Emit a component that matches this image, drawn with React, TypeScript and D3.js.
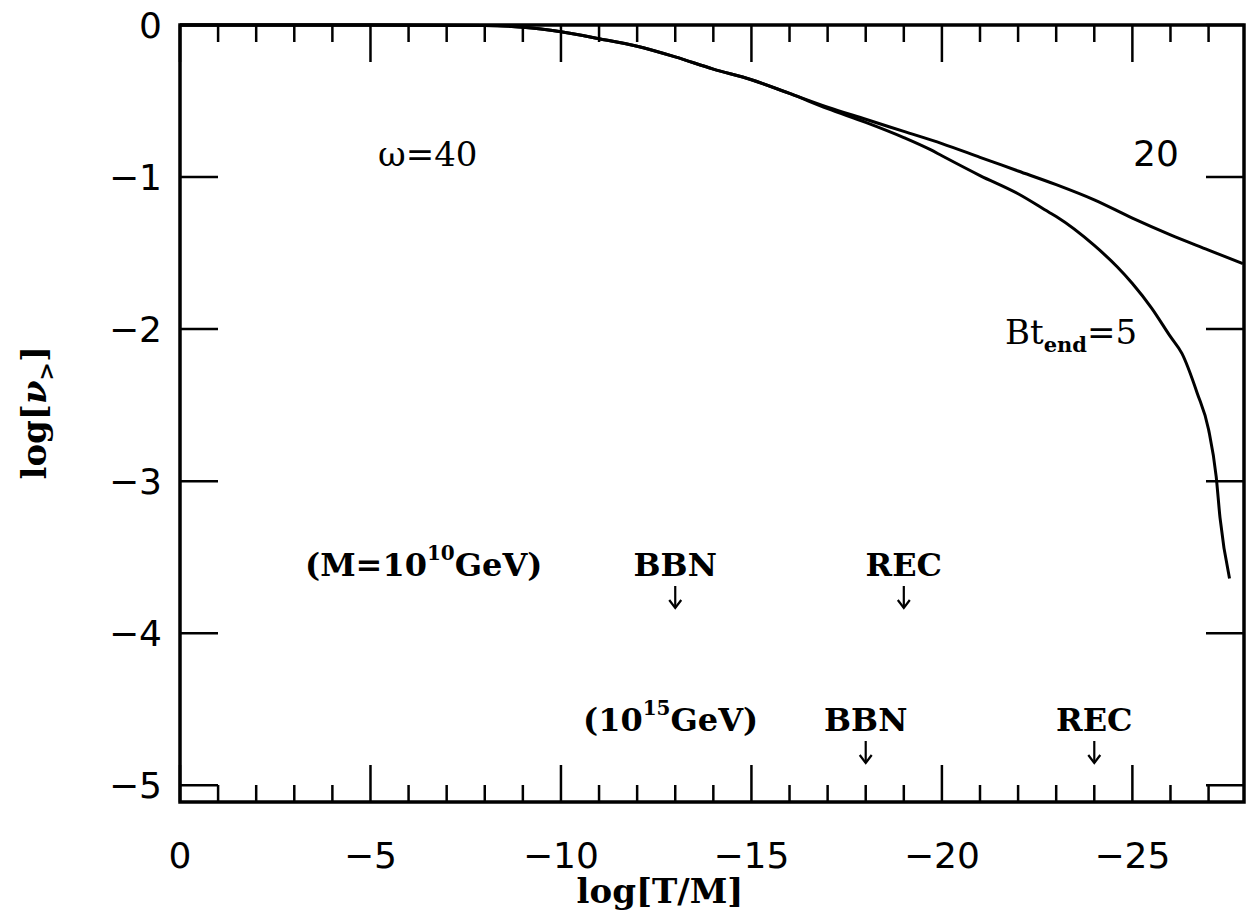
import React from "react";
import * as d3 from "d3";

// log[T/M] axis ticks
const xMajorTicks = [0, -5, -10, -15, -20, -25];
const xMinorTicks = d3.range(0, -28, -1).filter(v => v % 5 !== 0);
const xTickLabels = ["0", "\u22125", "\u221210", "\u221215", "\u221220", "\u221225"];

// log[v>] axis ticks
const yTicks = [0, -1, -2, -3, -4, -5];
const yTickLabels = ["0", "\u22121", "\u22122", "\u22123", "\u22124", "\u22125"];

// Bt_end = 20 curve
const curve20X = [0, -5, -8, -9, -10, -11, -12, -13, -14, -15, -16, -17, -18, -19, -20, -21, -22, -23, -24, -25, -26, -27, -27.9];
const curve20Y = [0, 0, -0.003, -0.015, -0.045, -0.09, -0.14, -0.21, -0.29, -0.36, -0.45, -0.54, -0.62, -0.7, -0.78, -0.87, -0.96, -1.05, -1.15, -1.27, -1.38, -1.48, -1.57];

// Bt_end = 5 curve
const curve5X = [0, -5, -8, -9, -10, -11, -12, -13, -14, -15, -16, -17, -18, -19, -19.7, -20, -21, -22, -22.8, -23, -24, -24.6, -25, -25.5, -26, -26.3, -26.7, -27, -27.2, -27.3, -27.55];
const curve5Y = [0, 0, -0.003, -0.015, -0.045, -0.09, -0.14, -0.21, -0.29, -0.36, -0.45, -0.55, -0.64, -0.74, -0.82, -0.86, -0.99, -1.11, -1.23, -1.26, -1.45, -1.59, -1.7, -1.86, -2.05, -2.16, -2.42, -2.66, -2.97, -3.24, -3.64];

// epoch markers for the two masses
const markerNames = ["BBN", "REC"];
const markersM10 = [-13, -19];
const markersM15 = [-18, -24];

const W = 1250;
const H = 915;
const margin = { top: 25, right: 6, bottom: 113, left: 180 };

const SANS = "'DejaVu Sans', sans-serif";
const SERIF = "'DejaVu Serif', serif";

function Arrow({ cx, top }: { cx: number; top: number }) {
  const len = 22;
  return (
    <g stroke="#000" strokeWidth={2.2} fill="none">
      <line x1={cx} x2={cx} y1={top} y2={top + len} />
      <path d={`M${cx - 6},${top + len - 8} L${cx},${top + len} L${cx + 6},${top + len - 8}`} />
    </g>
  );
}

export default function App() {
  const x = d3.scaleLinear().domain([0, -27.93]).range([margin.left, W - margin.right]);
  const y = d3.scaleLinear().domain([0, -5.11]).range([margin.top, H - margin.bottom]);

  const line = d3.line<[number, number]>()
    .x(d => x(d[0]))
    .y(d => y(d[1]))
    .curve(d3.curveMonotoneX);

  const c20 = curve20X.map((v, i) => [v, curve20Y[i]] as [number, number]);
  const c5 = curve5X.map((v, i) => [v, curve5Y[i]] as [number, number]);

  const x0 = x(0), x1 = x(-27.93), y0 = y(0), y1 = y(-5.11);
  const minorLen = 17, majorLen = 37, yTickLen = 38;

  return (
    <svg width={W} height={H} style={{ position: "absolute", left: 0, top: 0, background: "#fff" }}>
      <rect width={W} height={H} fill="#fff" />

      {/* curves */}
      <path d={line(c20) ?? ""} fill="none" stroke="#000" strokeWidth={3} />
      <path d={line(c5) ?? ""} fill="none" stroke="#000" strokeWidth={3} />

      {/* frame */}
      <rect x={x0} y={y0} width={x1 - x0} height={y1 - y0} fill="none" stroke="#000" strokeWidth={3.5} />

      {/* x ticks top and bottom, y ticks left and right */}
      <g stroke="#000" strokeWidth={2.5}>
        {xMinorTicks.map(t => (
          <g key={"mn" + t}>
            <line x1={x(t)} x2={x(t)} y1={y0} y2={y0 + minorLen} />
            <line x1={x(t)} x2={x(t)} y1={y1} y2={y1 - minorLen} />
          </g>
        ))}
        {xMajorTicks.map(t => (
          <g key={"mj" + t}>
            <line x1={x(t)} x2={x(t)} y1={y0} y2={y0 + majorLen} />
            <line x1={x(t)} x2={x(t)} y1={y1} y2={y1 - majorLen} />
          </g>
        ))}
        {yTicks.map(t => (
          <g key={"y" + t}>
            <line x1={x0} x2={x0 + yTickLen} y1={y(t)} y2={y(t)} />
            <line x1={x1} x2={x1 - yTickLen} y1={y(t)} y2={y(t)} />
          </g>
        ))}
      </g>

      {/* tick labels */}
      <g fontFamily={SANS} fontSize={36} fill="#000">
        {xMajorTicks.map((t, i) => (
          <text key={"xl" + t} x={x(t)} y={868} textAnchor="middle">{xTickLabels[i]}</text>
        ))}
        {yTicks.map((t, i) => (
          <text key={"yl" + t} x={162} y={y(t)} dy="0.36em" textAnchor="end">{yTickLabels[i]}</text>
        ))}
      </g>

      {/* axis titles */}
      <text x={660} y={903} textAnchor="middle" fontFamily={SERIF} fontWeight="bold" fontSize={34}>log[T/M]</text>
      <text transform={`translate(46,${y(-2.55)}) rotate(-90)`} textAnchor="middle" fontFamily={SERIF} fontWeight="bold" fontSize={34}>
        log[<tspan fontStyle="italic">{"\u03bd"}</tspan><tspan fontSize={22} dy={8}>{">"}</tspan><tspan dy={-8}>]</tspan>
      </text>

      {/* annotations */}
      <g fontFamily={SERIF} fontSize={32} fontWeight="bold" fill="#000">
        <text x={378} y={166} fontWeight="normal" fontSize={34}>{"\u03c9=40"}</text>
        <text x={1133} y={166} fontFamily={SANS} fontWeight="normal" fontSize={36}>20</text>
        <text x={1005} y={344} fontWeight="normal" fontSize={34}>Bt<tspan fontSize={21} fontWeight="bold" dy={8}>end</tspan><tspan dy={-8}>=5</tspan></text>

        <text x={305} y={576}>(M=10<tspan fontSize={20} dy={-16}>10</tspan><tspan dy={16}>GeV)</tspan></text>
        <text x={583} y={731}>(10<tspan fontSize={20} dy={-16}>15</tspan><tspan dy={16}>GeV)</tspan></text>

        {markersM10.map((m, i) => (
          <text key={"m10" + i} x={x(m)} y={576} textAnchor="middle">{markerNames[i]}</text>
        ))}
        {markersM15.map((m, i) => (
          <text key={"m15" + i} x={x(m)} y={731} textAnchor="middle">{markerNames[i]}</text>
        ))}
      </g>
      {markersM10.map((m, i) => <Arrow key={"a10" + i} cx={x(m)} top={586} />)}
      {markersM15.map((m, i) => <Arrow key={"a15" + i} cx={x(m)} top={741} />)}
    </svg>
  );
}
